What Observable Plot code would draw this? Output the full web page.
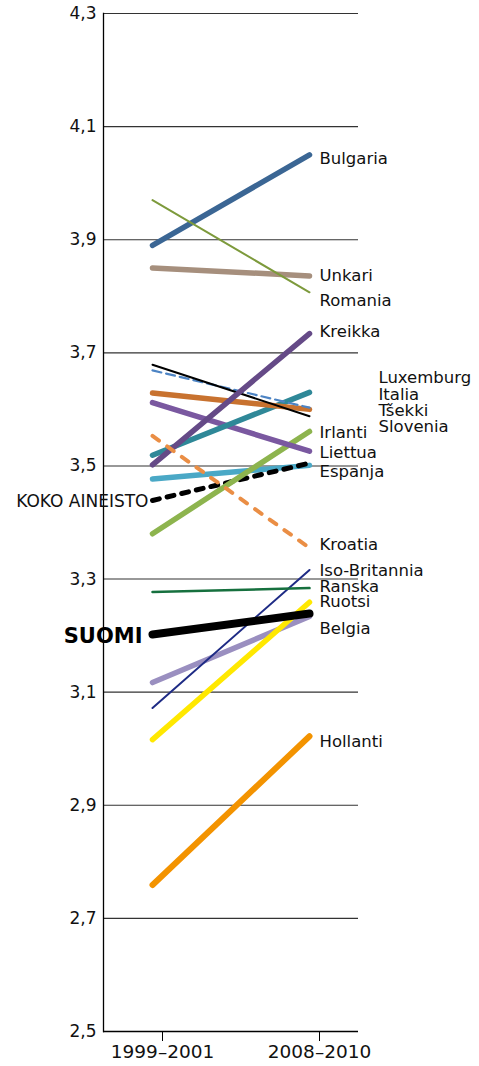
<!DOCTYPE html>
<html>
<head>
<meta charset="utf-8">
<script src="https://cdn.jsdelivr.net/npm/d3@7"></script>
<script src="https://cdn.jsdelivr.net/npm/@observablehq/plot@0.6"></script>
<style>
  html, body { margin: 0; padding: 0; background: #fff; }
  #chart svg { display: block; }
</style>
</head>
<body>
<div id="chart"></div>
<script>
// ---- data ----
const periods = ["1999–2001", "2008–2010"];
const yTicks = [2.5, 2.7, 2.9, 3.1, 3.3, 3.5, 3.7, 3.9, 4.1, 4.3];

const countries = ["Bulgaria", "Romania", "Unkari", "Kreikka", "Luxemburg", "Italia", "Tšekki", "Slovenia",
  "Irlanti", "Liettua", "Espanja", "KOKO AINEISTO", "Kroatia", "Iso-Britannia", "Ranska", "Ruotsi",
  "SUOMI", "Belgia", "Hollanti"];
const start1999 = [3.890, 3.970, 3.850, 3.502, 3.669, 3.629, 3.679, 3.519,
  3.380, 3.612, 3.477, 3.439, 3.553, 3.072, 3.277, 3.016,
  3.202, 3.117, 2.759];
const end2008 = [4.050, 3.807, 3.836, 3.734, 3.603, 3.600, 3.588, 3.630,
  3.561, 3.526, 3.501, 3.505, 3.355, 3.316, 3.284, 3.259,
  3.239, 3.234, 3.022];
// label anchor values (on the value axis)
const labelAt = [4.044, 3.793, 3.837, 3.738, 3.656, 3.626, 3.598, 3.570,
  3.559, 3.524, 3.490, 3.437, 3.361, 3.315, 3.287, 3.260,
  3.199, 3.213, 3.013];

// ---- styles (not data) ----
const style = {
  "Bulgaria":      {stroke: "#3b6694", w: 5.5},
  "Romania":       {stroke: "#7d9a3c", w: 2},
  "Unkari":        {stroke: "#a68f7d", w: 5.5},
  "Kreikka":       {stroke: "#654a87", w: 5.5},
  "Luxemburg":     {stroke: "#4d84c4", w: 2.2, dash: "9,5"},
  "Italia":        {stroke: "#c8722f", w: 5.5},
  "Tšekki":        {stroke: "#000000", w: 2},
  "Slovenia":      {stroke: "#2f8898", w: 5.5},
  "Irlanti":       {stroke: "#8db44e", w: 5.5},
  "Liettua":       {stroke: "#7a58a0", w: 5.5},
  "Espanja":       {stroke: "#4aa8c6", w: 5.5},
  "KOKO AINEISTO": {stroke: "#000000", w: 5, dash: "7,8", cap: "round"},
  "Kroatia":       {stroke: "#ea8e45", w: 4, dash: "8,10", cap: "round"},
  "Iso-Britannia": {stroke: "#1e2b85", w: 2},
  "Ranska":        {stroke: "#16703e", w: 2.5},
  "Ruotsi":        {stroke: "#ffe800", w: 5.5},
  "SUOMI":         {stroke: "#000000", w: 8},
  "Belgia":        {stroke: "#9a8fc0", w: 5.5},
  "Hollanti":      {stroke: "#f39300", w: 6}
};
const drawOrder = ["Hollanti", "Belgia", "Iso-Britannia", "Ruotsi", "Ranska", "SUOMI", "Espanja",
  "KOKO AINEISTO", "Irlanti", "Liettua", "Slovenia", "Italia", "Luxemburg", "Tšekki", "Kreikka",
  "Kroatia", "Unkari", "Bulgaria", "Romania"];
const farLabels = ["Luxemburg", "Italia", "Tšekki", "Slovenia"];

// ---- build tables ----
const rows = countries.map((c, i) => ({name: c, a: start1999[i], b: end2008[i], ly: labelAt[i]}));
const byName = Object.fromEntries(rows.map(r => [r.name, r]));

const lineMarks = drawOrder.map(name => {
  const r = byName[name];
  const s = style[name];
  return Plot.line([{x: periods[0], y: r.a}, {x: periods[1], y: r.b}], {
    x: "x", y: "y",
    stroke: s.stroke, strokeWidth: s.w,
    strokeDasharray: s.dash, strokeLinecap: s.cap || "round"
  });
});

const leftNames = ["KOKO AINEISTO", "SUOMI"];
const rightNear = rows.filter(r => !leftNames.includes(r.name) && !farLabels.includes(r.name));
const rightFar = rows.filter(r => farLabels.includes(r.name));

const fmt = d => d.toFixed(1).replace(".", ",");

const chart = Plot.plot({
  width: 479,
  height: 1066,
  marginTop: 13,
  marginBottom: 35,
  marginLeft: 103,
  marginRight: 121,
  style: {fontFamily: "'DejaVu Sans', sans-serif", color: "#111", background: "#fff"},
  x: {type: "point", domain: periods, padding: 0.31},
  y: {domain: [2.5, 4.3]},
  marks: [
    Plot.gridY(yTicks.slice(1), {stroke: "#333", strokeOpacity: 1, strokeWidth: 1.1}),
    Plot.frame({anchor: "left", stroke: "#000", strokeWidth: 1.3}),
    Plot.ruleY([2.5], {stroke: "#000", strokeWidth: 1.3}),
    Plot.axisY({ticks: yTicks, tickSize: 0, tickPadding: 7, tickFormat: fmt, fontSize: 17, label: null}),
    Plot.axisX({tickSize: 10, tickPadding: 3, dx: 10, fontSize: 18.5, label: null, stroke: "#000"}),
    ...lineMarks,
    Plot.text(rightNear, {x: () => periods[1], y: "ly", text: "name", textAnchor: "start", dx: 10, fontSize: 16.5, fill: "#111"}),
    Plot.text(rightFar, {x: () => periods[1], y: "ly", text: "name", textAnchor: "start", dx: 69, fontSize: 16.5, fill: "#111"}),
    Plot.text(rows.filter(r => r.name === "KOKO AINEISTO"), {x: () => periods[0], y: "ly", text: "name", textAnchor: "end", dx: -4, fontSize: 17, fill: "#111"}),
    Plot.text(rows.filter(r => r.name === "SUOMI"), {x: () => periods[0], y: "ly", text: "name", textAnchor: "end", dx: -10, fontSize: 21, fontWeight: "bold", fill: "#000"})
  ]
});
document.getElementById("chart").appendChild(chart);
</script>
</body>
</html>
